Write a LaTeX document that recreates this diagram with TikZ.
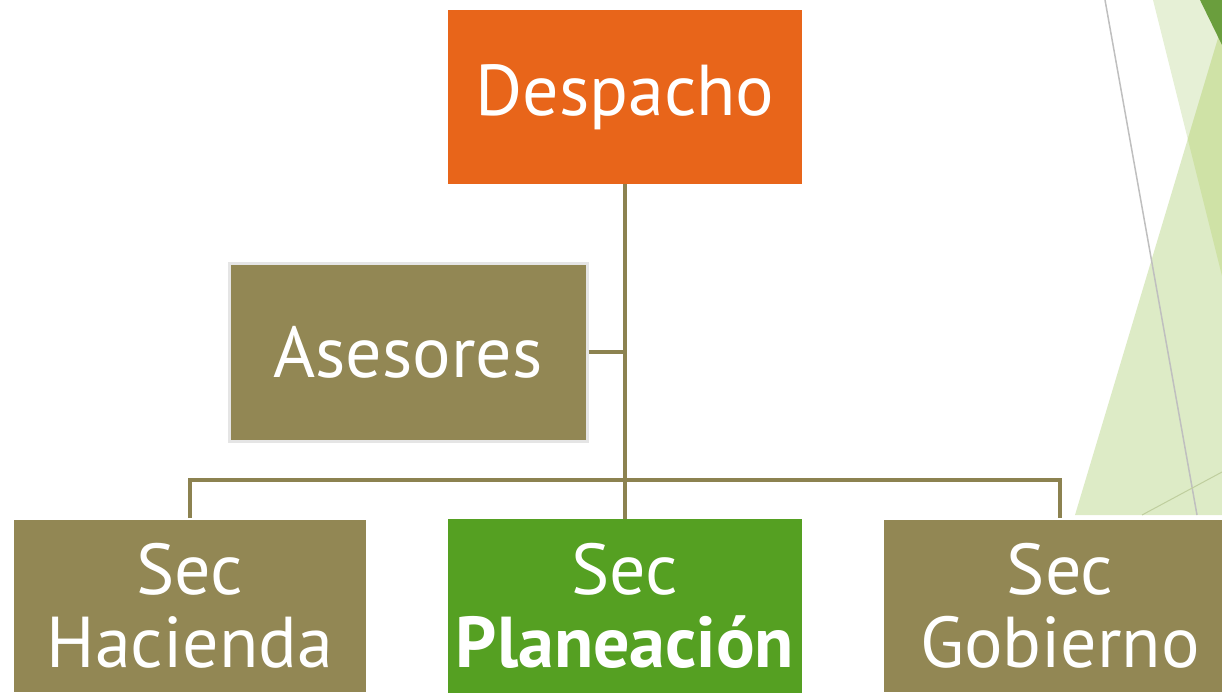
\documentclass[tikz,border=0pt]{standalone}
\usepackage{fontspec}
\setmainfont{PT Sans}
\definecolor{olive}{HTML}{928754}
\definecolor{lineolive}{HTML}{8C8250}
\definecolor{orng}{HTML}{E8651A}
\definecolor{grn}{HTML}{55A022}
\definecolor{bgA}{HTML}{E6F0D6}
\definecolor{bgB}{HTML}{DDEBC6}
\definecolor{bgC}{HTML}{CFE2A6}
\definecolor{bgD}{HTML}{6A9E3D}
\begin{document}
\begin{tikzpicture}[x=1pt,y=-1pt,
  box/.style={rectangle, minimum width=354pt, minimum height=174pt, inner sep=0pt,
    text=white, align=center, font=\fontsize{72}{73}\selectfont},
  link/.style={draw=lineolive, line width=4pt}]
\useasboundingbox (0,0) rectangle (1222,693);
\clip (0,0) rectangle (1222,693);
% background decoration
\fill[bgA] (1153,0) -- (1222,0) -- (1222,276) -- cycle;
\fill[bgB] (1222,25) -- (1075,515) -- (1222,515) -- cycle;
\begin{scope}
\clip (1222,25) -- (1075,515) -- (1222,515) -- cycle;
\fill[bgC] (1153,0) -- (1222,0) -- (1222,276) -- cycle;
\end{scope}
\fill[bgD] (1200,0) -- (1222,0) -- (1222,45) -- cycle;
\draw[gray!50, line width=1.5pt] (1105,0) -- (1197,515);
\draw[bgC!80!gray, line width=1pt] (1142,515) -- (1222,472);
% nodes
\node[box, fill=orng] (desp) at (625,97) {\raisebox{-3pt}{Despacho}};
\node[box, fill=olive, draw=gray!20, line width=3pt, minimum width=358pt, minimum height=178pt] (ases) at (408,352) {Asesores};
\node[box, fill=olive, draw=white, line width=2pt] (hac) at (190,606) {Sec\\Hacienda};
\node[box, fill=grn] (plan) at (625,606) {Sec\\\textbf{Planeación}};
\node[box, fill=olive, draw=white, line width=2pt] (gob) at (1060,606) {Sec\\Gobierno};
% connectors
\coordinate (j1) at (625,352);
\coordinate (j2) at (625,480);
\draw[link] (desp.south) -- (plan.north);
\draw[link] (ases.east) -- (j1);
\draw[link] (hac.north) -- (hac.north |- j2) -- (gob.north |- j2) -- (gob.north);
\end{tikzpicture}
\end{document}
